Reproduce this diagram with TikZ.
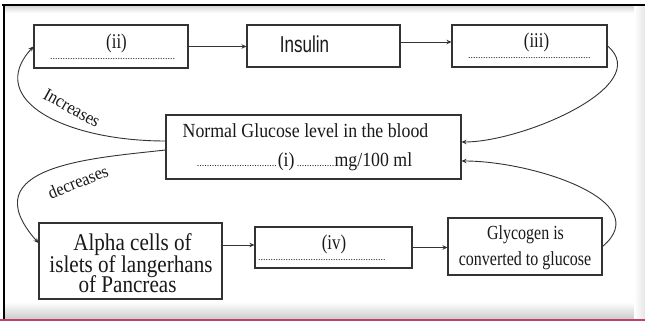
\documentclass[tikz,border=0pt]{standalone}
\usepackage{graphicx}
\usepackage{fontspec}
\setmainfont{Liberation Serif}
\newfontfamily\sansf{Liberation Sans}
\usetikzlibrary{arrows.meta}
\definecolor{rimred}{RGB}{192,64,104}
\newcommand\tx[3]{{\fontsize{#1}{#1}\selectfont\scalebox{#2}[1]{#3}}}
\newcommand\dotrow[1]{{\fontsize{10}{10}\selectfont\leaders\hbox to 2.5pt{\hss.\hss}\hskip #1\relax\kern0pt}}
\begin{document}
\begin{tikzpicture}[x=1pt,y=-1pt,
  box/.style={draw=black!80,line width=1.1pt,inner sep=0pt},
  lbl/.style={inner sep=0pt,anchor=base,text=black!90},
  arr/.style={draw=black!80,line width=0.9pt,-{Stealth[length=5pt,width=4.5pt]}}]
\useasboundingbox (0,0) rectangle (645,323);
\fill[white] (0,0) rectangle (645,323);
% faint scan shading
\shade[top color=black!16,bottom color=white] (5,6) rectangle (645,13);
\shade[top color=white,bottom color=black!20] (5,302) rectangle (645,319);
\shade[left color=white,right color=black!10] (634,6) rectangle (645,319);
% frame
\draw[line width=1.5pt,black] (2,5) -- (645,5);
\draw[line width=1.5pt,black] (4,5) -- (4,319);
\draw[line width=1.6pt,rimred] (0,320) -- (645,320);

% boxes
\node[box,minimum width=154pt,minimum height=43pt] (ii) at (111,46.5) {};
\node[box,minimum width=153pt,minimum height=42pt] (ins) at (323.5,46) {};
\node[box,minimum width=155pt,minimum height=42pt] (iii) at (529.5,46) {};
\node[box,minimum width=295pt,minimum height=64pt] (norm) at (313.5,147) {};
\node[box,minimum width=183pt,minimum height=76pt] (alpha) at (130.5,261) {};
\node[box,minimum width=157pt,minimum height=41pt] (iv) at (333.5,247.5) {};
\node[box,minimum width=154pt,minimum height=57pt] (gly) at (525,246.5) {};

% texts
\node[lbl] (tii) at (116.5,49) {\tx{21}{0.8}{(ii)}};
\node[lbl] (dii) at (112.5,60) {\dotrow{125pt}};
\node[lbl] (tins) at (304.5,52.7) {\sansf\tx{23}{0.74}{Insulin}};
\node[lbl] (tiii) at (536.5,48) {\tx{21}{0.8}{(iii)}};
\node[lbl] (diii) at (530,59) {\dotrow{124pt}};
\node[lbl] (tn1) at (305.5,138) {\tx{20}{0.89}{Normal Glucose level in the blood}};
\node[lbl] (tn2) at (304.5,167) {\dotrow{81pt}\tx{20}{0.89}{(i)}\dotrow{40pt}\tx{20}{0.89}{mg/100 ml}};
\node[lbl] (ta1) at (132.5,250) {\tx{24}{0.88}{Alpha cells of}};
\node[lbl] (ta2) at (131,272) {\tx{24}{0.88}{islets of langerhans}};
\node[lbl] (ta3) at (127.5,292) {\tx{24}{0.88}{of Pancreas}};
\node[lbl] (tiv) at (334,249) {\tx{21}{0.8}{(iv)}};
\node[lbl] (div) at (322.5,260) {\dotrow{129pt}};
\node[lbl] (tg1) at (525.5,240) {\tx{20}{0.8}{Glycogen is}};
\node[lbl] (tg2) at (525,265) {\tx{20}{0.8}{converted to glucose}};

% straight arrows
\draw[arr] (ii.east) -- (ii.east -| ins.west);
\draw[arr] ([yshift=4pt]ins.east) -- ([yshift=4pt]iii.west);
\draw[arr] ([yshift=16pt]alpha.east) -- ([yshift=16pt]alpha.east -| iv.west);
\draw[arr] (iv.east) -- (iv.east -| gly.west);

% curved arrows
\draw[arr] ([yshift=6pt]norm.west) .. controls +(-100,0) and +(-49,53.5) .. (ii.west);
\draw[arr] ([yshift=-3pt]norm.west) .. controls +(-70,8) and +(-69,-78) .. ([yshift=18pt]alpha.west);
\draw[arr] (iii.east) to[out=-40,in=0,looseness=0.9] ([yshift=5pt]norm.east);
\draw[arr] (gly.east) to[out=40,in=0,looseness=1.1] ([yshift=-14pt]norm.east);

% curve labels
\node[lbl,anchor=center,rotate=-29] (linc) at (72,108) {\tx{18}{0.92}{Increases}};
\node[lbl,anchor=center,rotate=22] (ldec) at (78,182) {\tx{18}{0.92}{decreases}};
\end{tikzpicture}
\end{document}
